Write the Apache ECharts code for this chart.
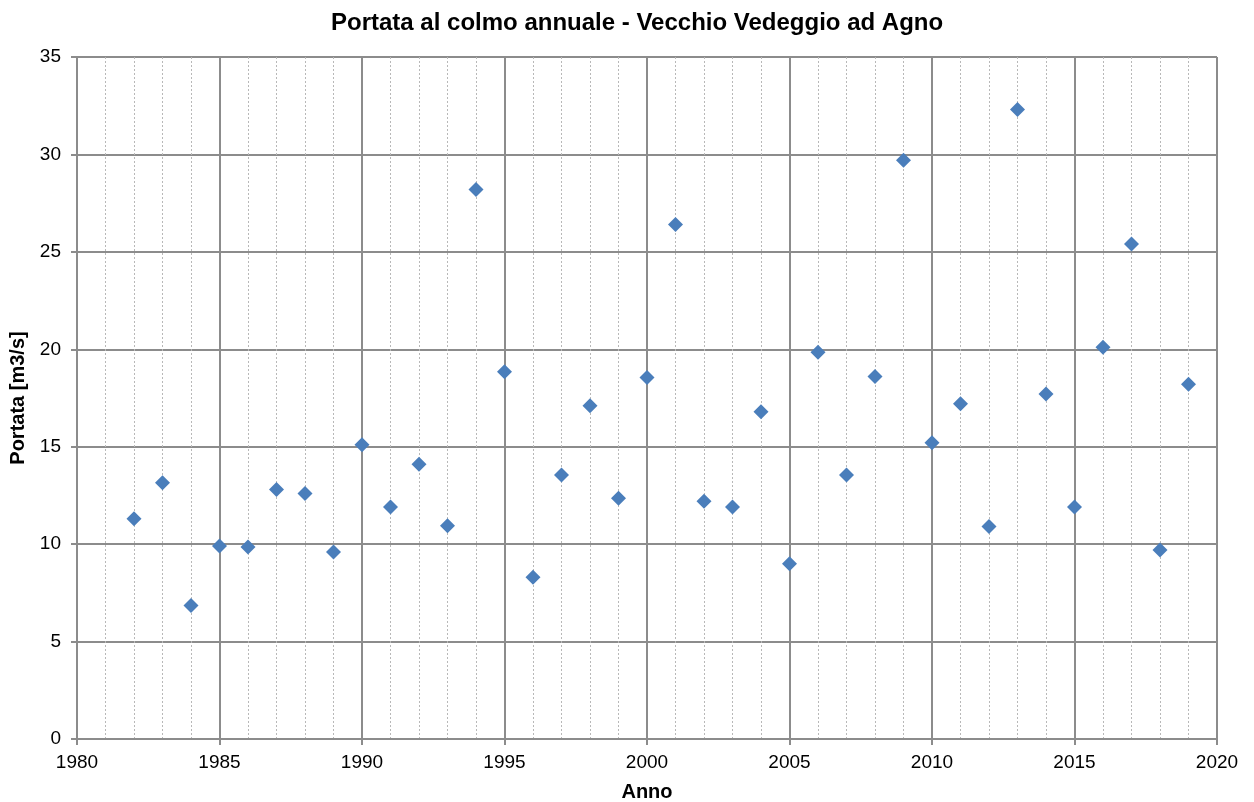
<!DOCTYPE html>
<html>
<head>
<meta charset="utf-8">
<script src="https://cdn.jsdelivr.net/npm/echarts@6/dist/echarts.min.js"></script>
<style>
html,body{margin:0;padding:0;background:#fff;}
#chart{width:1254px;height:802px;}
</style>
</head>
<body>
<div id="chart"></div>
<script>
const years = [1982,1983,1984,1985,1986,1987,1988,1989,1990,1991,1992,1993,1994,1995,1996,1997,1998,1999,2000,2001,2002,2003,2004,2005,2006,2007,2008,2009,2010,2011,2012,2013,2014,2015,2016,2017,2018,2019];
const portata = [11.3,13.15,6.85,9.9,9.85,12.8,12.6,9.6,15.1,11.9,14.1,10.95,28.2,18.85,8.3,13.55,17.1,12.35,18.55,26.4,12.2,11.9,16.8,9.0,19.85,13.55,18.6,29.7,15.2,17.2,10.9,32.3,17.7,11.9,20.1,25.4,9.7,18.2];
const titleText = 'Portata al colmo annuale - Vecchio Vedeggio ad Agno';
const xName = 'Anno';
const yName = 'Portata [m3/s]';

const chart = echarts.init(document.getElementById('chart'), null, {renderer:'canvas'});
const font = 'Liberation Sans, Arial, sans-serif';
const gridColor = '#8c8c8c';
chart.setOption({
  animation:false,
  backgroundColor:'#fff',
  title:{
    text:titleText, left:326, top:6,
    textStyle:{fontFamily:font, fontSize:24, fontWeight:'bold', color:'#000'}
  },
  grid:{left:77, right:37, top:57, bottom:63, containLabel:false, outerBoundsMode:'none'},
  xAxis:{
    type:'value', min:1980, max:2020, interval:5,
    name:xName, nameLocation:'middle', nameGap:43,
    nameTextStyle:{fontFamily:font, fontSize:20, fontWeight:'bold', color:'#000'},
    axisLine:{show:true, onZero:false, lineStyle:{color:gridColor, width:2}},
    axisTick:{show:true, length:6, inside:false, lineStyle:{color:gridColor, width:2}},
    axisLabel:{fontFamily:font, fontSize:19, color:'#000', margin:14, formatter:v=>String(v)},
    splitLine:{show:true, lineStyle:{color:gridColor, width:2}},
    minorTick:{show:false, splitNumber:5},
    minorSplitLine:{show:true, lineStyle:{color:'#b8b8b8', width:1, type:[2,2]}}
  },
  yAxis:{
    type:'value', min:0, max:35, interval:5,
    name:yName, nameLocation:'middle', nameGap:48,
    nameTextStyle:{fontFamily:font, fontSize:20, fontWeight:'bold', color:'#000'},
    axisLine:{show:true, lineStyle:{color:gridColor, width:2}},
    axisTick:{show:true, length:6, lineStyle:{color:gridColor, width:2}},
    axisLabel:{fontFamily:font, fontSize:19, color:'#000', margin:16},
    splitLine:{show:true, lineStyle:{color:gridColor, width:2}}
  },
  series:[{
    type:'scatter',
    data: years.map((y,i)=>[y, portata[i]]),
    symbol:'diamond', symbolSize:15,
    itemStyle:{color:'#4a7ebb', opacity:1}
  }]
});
</script>
</body>
</html>
